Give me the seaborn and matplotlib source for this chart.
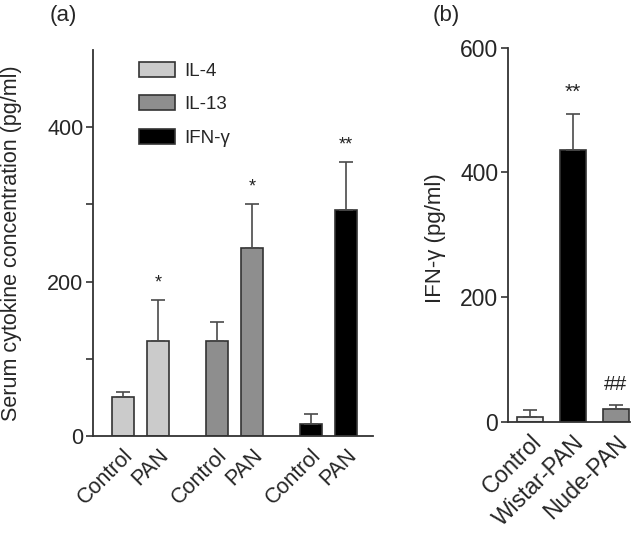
import numpy as np
import pandas as pd
import matplotlib
matplotlib.use("Agg")
import matplotlib.pyplot as plt
import seaborn as sns
from matplotlib.patches import Patch

# panel (a) data
cytokines = ["IL-4", "IL-13", "IFN-\u03b3"]
conditions = ["Control", "PAN"]
means_a = [50, 123, 123, 244, 16, 293]
sem_a = [7, 53, 25, 56, 12, 62]
marks_a = ["", "*", "", "*", "", "**"]

# panel (b) data
groups_b = ["Control", "Wistar-PAN", "Nude-PAN"]
means_b = [8, 436, 20]
sem_b = [11, 58, 6]
marks_b = ["", "**", "##"]

colors_a = {"IL-4": "#cbcbcb", "IL-13": "#8e8e8e", "IFN-\u03b3": "#000000"}
colors_b = ["#ececec", "#000000", "#8e8e8e"]

sns.set_style("white")
plt.rcParams["font.family"] = ["Liberation Sans", "DejaVu Sans"]

edge = "#333333"
group_gap = 2.68

rows = []
for g, cyt in enumerate(cytokines):
    for c, cond in enumerate(conditions):
        i = g * 2 + c
        rows.append(dict(pos=g * group_gap + c, cytokine=cyt, condition=cond,
                         value=means_a[i], sem=sem_a[i], mark=marks_a[i]))
df_a = pd.DataFrame(rows)

df_b = pd.DataFrame(dict(group=groups_b, value=means_b, sem=sem_b, mark=marks_b))

fig = plt.figure(figsize=(6.34, 5.42), dpi=100)
ax_a = fig.add_axes([0.1467, 0.1956, 0.4416, 0.7121])
ax_b = fig.add_axes([0.8013, 0.2220, 0.1924, 0.6900])

# ---- panel (a)
sns.barplot(data=df_a, x="pos", y="value", hue="cytokine", palette=colors_a,
            native_scale=True, dodge=False, width=0.63, errorbar=None,
            edgecolor=edge, linewidth=1.2, legend=False, ax=ax_a)
ax_a.errorbar(df_a["pos"], df_a["value"], yerr=[np.zeros(len(df_a)), df_a["sem"]],
              fmt="none", ecolor="#4a4a4a", elinewidth=1.2, capsize=5, capthick=1.2,
              zorder=1)
for _, r in df_a.iterrows():
    if r["mark"]:
        ax_a.text(r["pos"], r["value"] + r["sem"] + 22, r["mark"], ha="center",
                  va="center", fontsize=13, color="#222222")

ax_a.set_xlim(-0.857, 7.14)
ax_a.set_ylim(0, 500)
ax_a.set_yticks([0, 200, 400])
ax_a.set_yticks([100, 300], minor=True)
ax_a.set_xticks(df_a["pos"])
ax_a.set_xticklabels(df_a["condition"], rotation=45, ha="right",
                     rotation_mode="anchor")
ax_a.set_xlabel("")
ax_a.set_ylabel("Serum cytokine concentration (pg/ml)", fontsize=15.5)
ax_a.yaxis.set_label_coords(-0.255, 0.5)

handles = [Patch(facecolor=colors_a[c], edgecolor=edge, linewidth=1.2, label=c)
           for c in cytokines]
ax_a.legend(handles=handles, loc="upper left", bbox_to_anchor=(0.166, 0.97),
            frameon=False, fontsize=13.5, handlelength=1.87, handleheight=0.85,
            labelspacing=0.84, handletextpad=0.5, borderpad=0, borderaxespad=0)
ax_a.text(-0.155, 1.09, "(a)", transform=ax_a.transAxes, fontsize=16, va="center")

# ---- panel (b)
sns.barplot(data=df_b, x="group", y="value", hue="group", palette=colors_b,
            width=0.6, errorbar=None, edgecolor=edge, linewidth=1.2,
            legend=False, ax=ax_b)
xb = np.arange(len(df_b))
ax_b.errorbar(xb, df_b["value"], yerr=[np.zeros(len(df_b)), df_b["sem"]],
              fmt="none", ecolor="#4a4a4a", elinewidth=1.2, capsize=5, capthick=1.2,
              zorder=1)
for x, (_, r) in zip(xb, df_b.iterrows()):
    if r["mark"]:
        ax_b.text(x, r["value"] + r["sem"] + 34, r["mark"], ha="center",
                  va="center", fontsize=15, color="#222222")

ax_b.set_xlim(-0.51, 2.33)
ax_b.set_ylim(0, 600)
ax_b.set_yticks([0, 200, 400, 600])
ax_b.set_xticks(xb)
ax_b.set_xticklabels(groups_b, rotation=45, ha="right", rotation_mode="anchor")
ax_b.set_xlabel("")
ax_b.set_ylabel("IFN-\u03b3 (pg/ml)", fontsize=16)
ax_b.yaxis.set_label_coords(-0.505, 0.49)
ax_b.text(-0.62, 1.087, "(b)", transform=ax_b.transAxes, fontsize=16, va="center")

for ax, size in ((ax_a, 15.5), (ax_b, 16.5)):
    sns.despine(ax=ax)
    for s in ("left", "bottom"):
        ax.spines[s].set_color(edge)
        ax.spines[s].set_linewidth(1.3)
    ax.tick_params(axis="y", which="both", direction="out", left=True, length=5,
                   width=1.2, color=edge, labelsize=size, pad=2)
    ax.tick_params(axis="x", bottom=False, labelsize=size, pad=3)

fig.savefig("out.png", dpi=100)
